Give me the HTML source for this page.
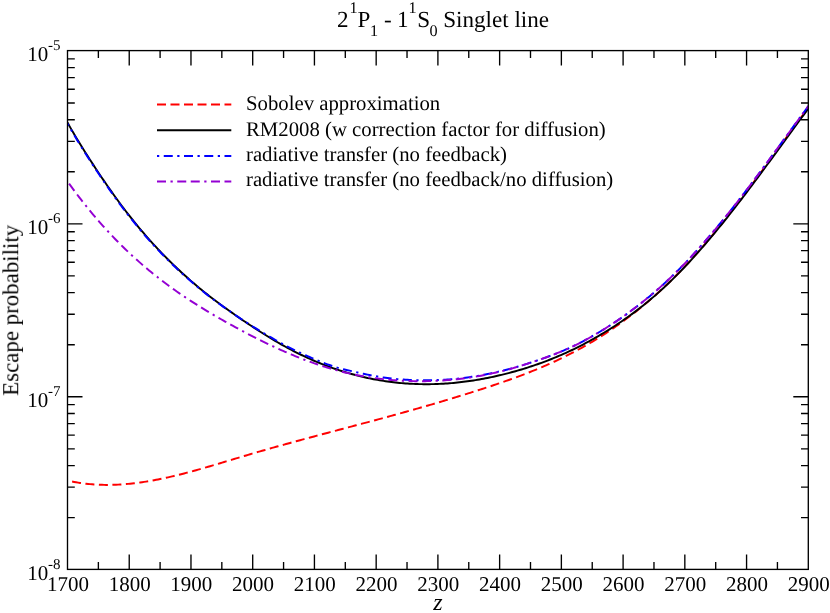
<!DOCTYPE html>
<html><head><meta charset="utf-8"><title>Escape probability</title>
<style>html,body{margin:0;padding:0;background:#fff;}body{width:830px;height:613px;position:relative;overflow:hidden;font-family:"Liberation Serif",serif;}</style>
</head><body>
<svg width="830" height="613" viewBox="0 0 830 613" style="position:absolute;left:0;top:0">
<rect x="0" y="0" width="830" height="613" fill="#fff"/>
<defs><clipPath id="c"><rect x="67.5" y="50.6" width="740.8" height="518.8"/></clipPath></defs>
<g clip-path="url(#c)" fill="none" stroke-linejoin="round">
<path d="M72.10,481.58 L74.10,481.96 L76.10,482.32 L78.10,482.65 L80.10,482.96 L82.10,483.25 L84.10,483.51 L86.10,483.74 L88.10,483.96 L90.10,484.15 L92.10,484.32 L94.10,484.47 L96.10,484.59 L98.10,484.70 L100.10,484.78 L102.10,484.84 L104.10,484.88 L106.10,484.91 L108.10,484.91 L110.10,484.89 L112.10,484.85 L114.10,484.80 L116.10,484.72 L118.10,484.63 L120.10,484.52 L122.10,484.39 L124.10,484.25 L126.10,484.08 L128.10,483.90 L130.10,483.71 L132.10,483.50 L134.10,483.27 L136.10,483.03 L138.10,482.77 L140.10,482.50 L142.10,482.21 L144.10,481.91 L146.10,481.60 L148.10,481.27 L150.10,480.93 L152.10,480.58 L154.10,480.21 L156.10,479.83 L158.10,479.44 L160.10,479.04 L162.10,478.63 L164.10,478.21 L166.10,477.77 L168.10,477.33 L170.10,476.87 L172.10,476.41 L174.10,475.94 L176.10,475.46 L178.10,474.97 L180.10,474.47 L182.10,473.96 L184.10,473.44 L186.10,472.92 L188.10,472.39 L190.10,471.86 L192.10,471.32 L194.10,470.77 L196.10,470.21 L198.10,469.66 L200.10,469.09 L202.10,468.52 L204.10,467.95 L206.10,467.37 L208.10,466.79 L210.10,466.20 L212.10,465.62 L214.10,465.02 L216.10,464.43 L218.10,463.83 L220.10,463.24 L222.10,462.64 L224.10,462.04 L226.10,461.44 L228.10,460.83 L230.10,460.23 L232.10,459.63 L234.10,459.03 L236.10,458.42 L238.10,457.82 L240.10,457.22 L242.10,456.63 L244.10,456.03 L246.10,455.44 L248.10,454.84 L250.10,454.26 L252.10,453.67 L254.10,453.09 L256.10,452.51 L258.10,451.93 L260.10,451.35 L262.10,450.78 L264.10,450.20 L266.10,449.63 L268.10,449.06 L270.10,448.50 L272.10,447.93 L274.10,447.37 L276.10,446.81 L278.10,446.25 L280.10,445.70 L282.10,445.14 L284.10,444.59 L286.10,444.04 L288.10,443.48 L290.10,442.94 L292.10,442.39 L294.10,441.84 L296.10,441.30 L298.10,440.75 L300.10,440.21 L302.10,439.67 L304.10,439.13 L306.10,438.59 L308.10,438.05 L310.10,437.51 L312.10,436.98 L314.10,436.44 L316.10,435.91 L318.10,435.37 L320.10,434.84 L322.10,434.31 L324.10,433.77 L326.10,433.24 L328.10,432.71 L330.10,432.18 L332.10,431.65 L334.10,431.12 L336.10,430.59 L338.10,430.06 L340.10,429.53 L342.10,429.00 L344.10,428.47 L346.10,427.93 L348.10,427.40 L350.10,426.87 L352.10,426.34 L354.10,425.81 L356.10,425.28 L358.10,424.75 L360.10,424.22 L362.10,423.68 L364.10,423.15 L366.10,422.62 L368.10,422.08 L370.10,421.55 L372.10,421.01 L374.10,420.48 L376.10,419.94 L378.10,419.40 L380.10,418.86 L382.10,418.32 L384.10,417.78 L386.10,417.24 L388.10,416.69 L390.10,416.15 L392.10,415.60 L394.10,415.05 L396.10,414.50 L398.10,413.95 L400.10,413.40 L402.10,412.85 L404.10,412.29 L406.10,411.73 L408.10,411.17 L410.10,410.61 L412.10,410.05 L414.10,409.49 L416.10,408.92 L418.10,408.35 L420.10,407.78 L422.10,407.21 L424.10,406.64 L426.10,406.06 L428.10,405.48 L430.10,404.90 L432.10,404.32 L434.10,403.73 L436.10,403.14 L438.10,402.56 L440.10,401.96 L442.10,401.37 L444.10,400.77 L446.10,400.18 L448.10,399.57 L450.10,398.97 L452.10,398.37 L454.10,397.76 L456.10,397.15 L458.10,396.53 L460.10,395.92 L462.10,395.30 L464.10,394.68 L466.10,394.06 L468.10,393.43 L470.10,392.81 L472.10,392.17 L474.10,391.54 L476.10,390.91 L478.10,390.27 L480.10,389.63 L482.10,388.98 L484.10,388.33 L486.10,387.68 L488.10,387.03 L490.10,386.37 L492.10,385.71 L494.10,385.04 L496.10,384.37 L498.10,383.69 L500.10,383.01 L502.10,382.32 L504.10,381.63 L506.10,380.93 L508.10,380.22 L510.10,379.51 L512.10,378.80 L514.10,378.07 L516.10,377.34 L518.10,376.60 L520.10,375.85 L522.10,375.10 L524.10,374.33 L526.10,373.56 L528.10,372.78 L530.10,371.99 L532.10,371.19 L534.10,370.39 L536.10,369.57 L538.10,368.74 L540.10,367.90 L542.10,367.06 L544.10,366.20 L546.10,365.33 L548.10,364.45 L550.10,363.56 L552.10,362.66 L554.10,361.74 L556.10,360.82 L558.10,359.88 L560.10,358.93 L562.10,357.96 L564.10,356.98 L566.10,355.99 L568.10,354.99 L570.10,353.97 L572.10,352.94 L574.10,351.89 L576.10,350.83 L578.10,349.76 L580.10,348.67 L582.10,347.56 L584.10,346.44 L586.10,345.30 L588.10,344.15 L590.10,342.99 L592.10,341.80 L594.10,340.60 L596.10,339.39 L598.10,338.15 L600.10,336.91 L602.10,335.64 L604.10,334.36 L606.10,333.06 L608.10,331.74 L610.10,330.41 L612.10,329.06 L614.10,327.69 L616.10,326.30 L618.10,324.89 L620.10,323.47 L622.10,322.03 L624.10,320.57 L626.10,319.09 L628.10,317.59 L630.10,316.07 L632.10,314.54 L634.10,312.98 L636.10,311.41 L638.10,309.81 L640.10,308.20 L642.10,306.56 L644.10,304.90 L646.10,303.23 L648.10,301.53 L650.10,299.82 L652.10,298.08 L654.10,296.32 L656.10,294.54 L658.10,292.74 L660.10,290.92 L662.10,289.07 L664.10,287.20 L666.10,285.32 L668.10,283.41 L670.10,281.47 L672.10,279.52 L674.10,277.54 L676.10,275.54 L678.10,273.51 L680.10,271.47 L682.10,269.40 L684.10,267.30 L686.10,265.18 L688.10,263.04 L690.10,260.88 L692.10,258.69 L694.10,256.47 L696.10,254.24 L698.10,251.98 L700.10,249.70 L702.10,247.39 L704.10,245.07 L706.10,242.73 L708.10,240.36 L710.10,237.98 L712.10,235.57 L714.10,233.15 L716.10,230.71 L718.10,228.26 L720.10,225.78 L722.10,223.29 L724.10,220.78 L726.10,218.26 L728.10,215.72 L730.10,213.17 L732.10,210.61 L734.10,208.03 L736.10,205.44 L738.10,202.83 L740.10,200.21 L742.10,197.59 L744.10,194.95 L746.10,192.30 L748.10,189.64 L750.10,186.97 L752.10,184.29 L754.10,181.61 L756.10,178.91 L758.10,176.21 L760.10,173.50 L762.10,170.79 L764.10,168.07 L766.10,165.34 L768.10,162.61 L770.10,159.88 L772.10,157.14 L774.10,154.40 L776.10,151.66 L778.10,148.91 L780.10,146.16 L782.10,143.41 L784.10,140.66 L786.10,137.91 L788.10,135.16 L790.10,132.41 L792.10,129.66 L794.10,126.91 L796.10,124.17 L798.10,121.43 L800.10,118.69 L802.10,115.95 L804.10,113.22 L806.10,110.50 L808.10,107.78 L808.30,107.51" stroke="#ff0000" stroke-width="1.95" stroke-dasharray="9.0,4.5"/>
<path d="M67.50,122.54 L69.50,126.11 L71.50,129.62 L73.50,133.06 L75.50,136.45 L77.50,139.78 L79.50,143.07 L81.50,146.31 L83.50,149.52 L85.50,152.69 L87.50,155.83 L89.50,158.94 L91.50,162.04 L93.50,165.11 L95.50,168.16 L97.50,171.19 L99.50,174.19 L101.50,177.17 L103.50,180.13 L105.50,183.05 L107.50,185.96 L109.50,188.83 L111.50,191.68 L113.50,194.49 L115.50,197.28 L117.50,200.04 L119.50,202.77 L121.50,205.46 L123.50,208.13 L125.50,210.76 L127.50,213.36 L129.50,215.92 L131.50,218.45 L133.50,220.95 L135.50,223.42 L137.50,225.86 L139.50,228.27 L141.50,230.64 L143.50,232.99 L145.50,235.31 L147.50,237.59 L149.50,239.85 L151.50,242.08 L153.50,244.29 L155.50,246.46 L157.50,248.61 L159.50,250.73 L161.50,252.82 L163.50,254.89 L165.50,256.94 L167.50,258.95 L169.50,260.95 L171.50,262.92 L173.50,264.86 L175.50,266.79 L177.50,268.69 L179.50,270.56 L181.50,272.42 L183.50,274.25 L185.50,276.06 L187.50,277.85 L189.50,279.62 L191.50,281.37 L193.50,283.10 L195.50,284.80 L197.50,286.49 L199.50,288.15 L201.50,289.80 L203.50,291.43 L205.50,293.03 L207.50,294.62 L209.50,296.19 L211.50,297.74 L213.50,299.27 L215.50,300.78 L217.50,302.28 L219.50,303.76 L221.50,305.23 L223.50,306.68 L225.50,308.12 L227.50,309.55 L229.50,310.97 L231.50,312.39 L233.50,313.79 L235.50,315.19 L237.50,316.58 L239.50,317.96 L241.50,319.33 L243.50,320.69 L245.50,322.05 L247.50,323.40 L249.50,324.73 L251.50,326.06 L253.50,327.38 L255.50,328.68 L257.50,329.98 L259.50,331.26 L261.50,332.53 L263.50,333.79 L265.50,335.04 L267.50,336.28 L269.50,337.50 L271.50,338.71 L273.50,339.90 L275.50,341.08 L277.50,342.25 L279.50,343.40 L281.50,344.53 L283.50,345.66 L285.50,346.76 L287.50,347.85 L289.50,348.92 L291.50,349.98 L293.50,351.02 L295.50,352.04 L297.50,353.04 L299.50,354.03 L301.50,355.00 L303.50,355.96 L305.50,356.90 L307.50,357.82 L309.50,358.73 L311.50,359.61 L313.50,360.49 L315.50,361.34 L317.50,362.18 L319.50,363.00 L321.50,363.81 L323.50,364.60 L325.50,365.37 L327.50,366.13 L329.50,366.87 L331.50,367.60 L333.50,368.31 L335.50,369.00 L337.50,369.68 L339.50,370.34 L341.50,370.99 L343.50,371.61 L345.50,372.23 L347.50,372.83 L349.50,373.41 L351.50,373.97 L353.50,374.52 L355.50,375.06 L357.50,375.58 L359.50,376.08 L361.50,376.57 L363.50,377.04 L365.50,377.50 L367.50,377.94 L369.50,378.36 L371.50,378.77 L373.50,379.17 L375.50,379.55 L377.50,379.91 L379.50,380.26 L381.50,380.59 L383.50,380.91 L385.50,381.22 L387.50,381.51 L389.50,381.78 L391.50,382.04 L393.50,382.28 L395.50,382.51 L397.50,382.72 L399.50,382.92 L401.50,383.11 L403.50,383.28 L405.50,383.43 L407.50,383.57 L409.50,383.70 L411.50,383.81 L413.50,383.90 L415.50,383.99 L417.50,384.06 L419.50,384.11 L421.50,384.15 L423.50,384.18 L425.50,384.19 L427.50,384.19 L429.50,384.17 L431.50,384.14 L433.50,384.10 L435.50,384.04 L437.50,383.97 L439.50,383.89 L441.50,383.79 L443.50,383.68 L445.50,383.55 L447.50,383.41 L449.50,383.26 L451.50,383.10 L453.50,382.92 L455.50,382.73 L457.50,382.52 L459.50,382.31 L461.50,382.08 L463.50,381.83 L465.50,381.58 L467.50,381.31 L469.50,381.03 L471.50,380.73 L473.50,380.43 L475.50,380.11 L477.50,379.78 L479.50,379.43 L481.50,379.08 L483.50,378.71 L485.50,378.33 L487.50,377.93 L489.50,377.53 L491.50,377.11 L493.50,376.68 L495.50,376.24 L497.50,375.79 L499.50,375.32 L501.50,374.85 L503.50,374.36 L505.50,373.86 L507.50,373.35 L509.50,372.82 L511.50,372.29 L513.50,371.74 L515.50,371.19 L517.50,370.62 L519.50,370.03 L521.50,369.44 L523.50,368.84 L525.50,368.22 L527.50,367.59 L529.50,366.94 L531.50,366.29 L533.50,365.62 L535.50,364.93 L537.50,364.24 L539.50,363.53 L541.50,362.81 L543.50,362.07 L545.50,361.32 L547.50,360.56 L549.50,359.78 L551.50,358.99 L553.50,358.18 L555.50,357.36 L557.50,356.52 L559.50,355.67 L561.50,354.81 L563.50,353.93 L565.50,353.03 L567.50,352.12 L569.50,351.19 L571.50,350.25 L573.50,349.29 L575.50,348.32 L577.50,347.33 L579.50,346.32 L581.50,345.30 L583.50,344.27 L585.50,343.21 L587.50,342.14 L589.50,341.06 L591.50,339.96 L593.50,338.84 L595.50,337.70 L597.50,336.55 L599.50,335.39 L601.50,334.20 L603.50,333.00 L605.50,331.79 L607.50,330.55 L609.50,329.30 L611.50,328.04 L613.50,326.75 L615.50,325.45 L617.50,324.13 L619.50,322.79 L621.50,321.44 L623.50,320.06 L625.50,318.67 L627.50,317.25 L629.50,315.82 L631.50,314.36 L633.50,312.88 L635.50,311.39 L637.50,309.87 L639.50,308.33 L641.50,306.76 L643.50,305.17 L645.50,303.56 L647.50,301.93 L649.50,300.27 L651.50,298.59 L653.50,296.88 L655.50,295.15 L657.50,293.39 L659.50,291.61 L661.50,289.80 L663.50,287.96 L665.50,286.10 L667.50,284.21 L669.50,282.29 L671.50,280.35 L673.50,278.39 L675.50,276.40 L677.50,274.38 L679.50,272.34 L681.50,270.28 L683.50,268.20 L685.50,266.09 L687.50,263.96 L689.50,261.80 L691.50,259.63 L693.50,257.43 L695.50,255.21 L697.50,252.97 L699.50,250.70 L701.50,248.42 L703.50,246.12 L705.50,243.80 L707.50,241.45 L709.50,239.09 L711.50,236.71 L713.50,234.31 L715.50,231.89 L717.50,229.46 L719.50,227.00 L721.50,224.53 L723.50,222.05 L725.50,219.55 L727.50,217.03 L729.50,214.50 L731.50,211.96 L733.50,209.40 L735.50,206.83 L737.50,204.24 L739.50,201.65 L741.50,199.04 L743.50,196.42 L745.50,193.79 L747.50,191.15 L749.50,188.50 L751.50,185.84 L753.50,183.17 L755.50,180.50 L757.50,177.81 L759.50,175.12 L761.50,172.42 L763.50,169.72 L765.50,167.01 L767.50,164.29 L769.50,161.57 L771.50,158.85 L773.50,156.12 L775.50,153.39 L777.50,150.65 L779.50,147.92 L781.50,145.18 L783.50,142.44 L785.50,139.69 L787.50,136.95 L789.50,134.21 L791.50,131.47 L793.50,128.73 L795.50,125.99 L797.50,123.25 L799.50,120.52 L801.50,117.79 L803.50,115.06 L805.50,112.34 L807.50,109.62 L808.30,108.53" stroke="#000" stroke-width="1.95"/>
<path d="M67.50,123.44 L69.50,127.01 L71.50,130.52 L73.50,133.96 L75.50,137.34 L77.50,140.68 L79.50,143.96 L81.50,147.20 L83.50,150.40 L85.50,153.57 L87.50,156.71 L89.50,159.82 L91.50,162.91 L93.50,165.98 L95.50,169.03 L97.50,172.05 L99.50,175.05 L101.50,178.03 L103.50,180.97 L105.50,183.90 L107.50,186.79 L109.50,189.66 L111.50,192.50 L113.50,195.32 L115.50,198.10 L117.50,200.85 L119.50,203.57 L121.50,206.26 L123.50,208.92 L125.50,211.54 L127.50,214.13 L129.50,216.69 L131.50,219.22 L133.50,221.71 L135.50,224.17 L137.50,226.60 L139.50,229.00 L141.50,231.37 L143.50,233.71 L145.50,236.02 L147.50,238.30 L149.50,240.55 L151.50,242.78 L153.50,244.97 L155.50,247.14 L157.50,249.28 L159.50,251.39 L161.50,253.48 L163.50,255.53 L165.50,257.57 L167.50,259.58 L169.50,261.56 L171.50,263.52 L173.50,265.45 L175.50,267.36 L177.50,269.25 L179.50,271.11 L181.50,272.95 L183.50,274.77 L185.50,276.57 L187.50,278.35 L189.50,280.10 L191.50,281.83 L193.50,283.55 L195.50,285.24 L197.50,286.91 L199.50,288.56 L201.50,290.19 L203.50,291.80 L205.50,293.39 L207.50,294.96 L209.50,296.51 L211.50,298.04 L213.50,299.55 L215.50,301.04 L217.50,302.51 L219.50,303.97 L221.50,305.41 L223.50,306.84 L225.50,308.26 L227.50,309.66 L229.50,311.05 L231.50,312.44 L233.50,313.81 L235.50,315.18 L237.50,316.54 L239.50,317.88 L241.50,319.22 L243.50,320.54 L245.50,321.86 L247.50,323.16 L249.50,324.45 L251.50,325.72 L253.50,326.97 L255.50,328.20 L257.50,329.41 L259.50,330.61 L261.50,331.80 L263.50,332.98 L265.50,334.16 L267.50,335.33 L269.50,336.51 L271.50,337.68 L273.50,338.85 L275.50,340.01 L277.50,341.16 L279.50,342.29 L281.50,343.41 L283.50,344.51 L285.50,345.60 L287.50,346.66 L289.50,347.69 L291.50,348.70 L293.50,349.68 L295.50,350.63 L297.50,351.57 L299.50,352.49 L301.50,353.40 L303.50,354.30 L305.50,355.20 L307.50,356.10 L309.50,356.99 L311.50,357.86 L313.50,358.73 L315.50,359.57 L317.50,360.40 L319.50,361.22 L321.50,362.02 L323.50,362.80 L325.50,363.56 L327.50,364.31 L329.50,365.03 L331.50,365.74 L333.50,366.42 L335.50,367.08 L337.50,367.68 L339.50,368.21 L341.50,368.71 L343.50,369.21 L345.50,369.70 L347.50,370.18 L349.50,370.64 L351.50,371.09 L353.50,371.54 L355.50,372.00 L357.50,372.44 L359.50,372.88 L361.50,373.31 L363.50,373.74 L365.50,374.18 L367.50,374.60 L369.50,375.01 L371.50,375.40 L373.50,375.79 L375.50,376.16 L377.50,376.51 L379.50,376.85 L381.50,377.18 L383.50,377.49 L385.50,377.78 L387.50,378.06 L389.50,378.32 L391.50,378.56 L393.50,378.78 L395.50,378.98 L397.50,379.15 L399.50,379.30 L401.50,379.44 L403.50,379.58 L405.50,379.70 L407.50,379.82 L409.50,379.91 L411.50,380.00 L413.50,380.07 L415.50,380.13 L417.50,380.18 L419.50,380.22 L421.50,380.26 L423.50,380.28 L425.50,380.29 L427.50,380.29 L429.50,380.27 L431.50,380.24 L433.50,380.20 L435.50,380.14 L437.50,380.07 L439.50,379.99 L441.50,379.89 L443.50,379.78 L445.50,379.65 L447.50,379.51 L449.50,379.36 L451.50,379.20 L453.50,379.02 L455.50,378.83 L457.50,378.62 L459.50,378.41 L461.50,378.18 L463.50,377.93 L465.50,377.68 L467.50,377.41 L469.50,377.13 L471.50,376.83 L473.50,376.53 L475.50,376.21 L477.50,375.88 L479.50,375.53 L481.50,375.18 L483.50,374.81 L485.50,374.43 L487.50,374.03 L489.50,373.63 L491.50,373.21 L493.50,372.78 L495.50,372.34 L497.50,371.89 L499.50,371.42 L501.50,370.95 L503.50,370.46 L505.50,369.96 L507.50,369.45 L509.50,368.92 L511.50,368.39 L513.50,367.84 L515.50,367.29 L517.50,366.72 L519.50,366.13 L521.50,365.54 L523.50,364.94 L525.50,364.32 L527.50,363.69 L529.50,363.04 L531.50,362.39 L533.50,361.73 L535.50,361.06 L537.50,360.38 L539.50,359.70 L541.50,359.00 L543.50,358.30 L545.50,357.58 L547.50,356.85 L549.50,356.11 L551.50,355.36 L553.50,354.60 L555.50,353.82 L557.50,353.02 L559.50,352.22 L561.50,351.39 L563.50,350.55 L565.50,349.69 L567.50,348.81 L569.50,347.91 L571.50,347.00 L573.50,346.06 L575.50,345.10 L577.50,344.12 L579.50,343.12 L581.50,342.10 L583.50,341.05 L585.50,339.98 L587.50,338.89 L589.50,337.78 L591.50,336.66 L593.50,335.51 L595.50,334.35 L597.50,333.17 L599.50,331.98 L601.50,330.78 L603.50,329.55 L605.50,328.31 L607.50,327.05 L609.50,325.77 L611.50,324.47 L613.50,323.16 L615.50,321.83 L617.50,320.48 L619.50,319.12 L621.50,317.73 L623.50,316.33 L625.50,314.91 L627.50,313.47 L629.50,312.01 L631.50,310.53 L633.50,309.04 L635.50,307.53 L637.50,305.99 L639.50,304.44 L641.50,302.87 L643.50,301.28 L645.50,299.66 L647.50,298.03 L649.50,296.38 L651.50,294.71 L653.50,293.02 L655.50,291.30 L657.50,289.57 L659.50,287.81 L661.50,286.02 L663.50,284.22 L665.50,282.38 L667.50,280.53 L669.50,278.65 L671.50,276.74 L673.50,274.81 L675.50,272.86 L677.50,270.88 L679.50,268.88 L681.50,266.86 L683.50,264.81 L685.50,262.74 L687.50,260.64 L689.50,258.52 L691.50,256.37 L693.50,254.21 L695.50,252.02 L697.50,249.80 L699.50,247.57 L701.50,245.32 L703.50,243.05 L705.50,240.76 L707.50,238.45 L709.50,236.13 L711.50,233.78 L713.50,231.42 L715.50,229.04 L717.50,226.64 L719.50,224.22 L721.50,221.79 L723.50,219.34 L725.50,216.88 L727.50,214.40 L729.50,211.90 L731.50,209.39 L733.50,206.86 L735.50,204.32 L737.50,201.77 L739.50,199.20 L741.50,196.61 L743.50,194.02 L745.50,191.41 L747.50,188.79 L749.50,186.16 L751.50,183.51 L753.50,180.86 L755.50,178.19 L757.50,175.51 L759.50,172.82 L761.50,170.12 L763.50,167.42 L765.50,164.71 L767.50,161.99 L769.50,159.27 L771.50,156.55 L773.50,153.82 L775.50,151.09 L777.50,148.35 L779.50,145.62 L781.50,142.88 L783.50,140.14 L785.50,137.39 L787.50,134.65 L789.50,131.91 L791.50,129.17 L793.50,126.43 L795.50,123.69 L797.50,120.95 L799.50,118.22 L801.50,115.48 L803.50,112.73 L805.50,109.98 L807.50,107.23 L808.30,106.13" stroke="#0000ff" stroke-width="1.95" stroke-dasharray="2.25,4.5,9.0,4.5" stroke-dashoffset="13.25"/>
<path d="M69.10,183.63 L71.10,186.39 L73.10,189.12 L75.10,191.81 L77.10,194.47 L79.10,197.10 L81.10,199.69 L83.10,202.24 L85.10,204.77 L87.10,207.26 L89.10,209.72 L91.10,212.15 L93.10,214.55 L95.10,216.91 L97.10,219.25 L99.10,221.55 L101.10,223.83 L103.10,226.08 L105.10,228.29 L107.10,230.48 L109.10,232.64 L111.10,234.77 L113.10,236.87 L115.10,238.95 L117.10,241.00 L119.10,243.02 L121.10,245.02 L123.10,246.99 L125.10,248.93 L127.10,250.85 L129.10,252.75 L131.10,254.62 L133.10,256.46 L135.10,258.28 L137.10,260.08 L139.10,261.86 L141.10,263.61 L143.10,265.34 L145.10,267.05 L147.10,268.74 L149.10,270.40 L151.10,272.05 L153.10,273.67 L155.10,275.27 L157.10,276.86 L159.10,278.42 L161.10,279.97 L163.10,281.50 L165.10,283.01 L167.10,284.50 L169.10,285.97 L171.10,287.43 L173.10,288.86 L175.10,290.29 L177.10,291.69 L179.10,293.08 L181.10,294.46 L183.10,295.82 L185.10,297.16 L187.10,298.49 L189.10,299.81 L191.10,301.11 L193.10,302.40 L195.10,303.68 L197.10,304.94 L199.10,306.20 L201.10,307.44 L203.10,308.67 L205.10,309.88 L207.10,311.09 L209.10,312.29 L211.10,313.47 L213.10,314.65 L215.10,315.82 L217.10,316.98 L219.10,318.13 L221.10,319.27 L223.10,320.40 L225.10,321.53 L227.10,322.65 L229.10,323.76 L231.10,324.87 L233.10,325.97 L235.10,327.06 L237.10,328.15 L239.10,329.23 L241.10,330.30 L243.10,331.37 L245.10,332.42 L247.10,333.47 L249.10,334.52 L251.10,335.55 L253.10,336.58 L255.10,337.60 L257.10,338.61 L259.10,339.61 L261.10,340.61 L263.10,341.59 L265.10,342.57 L267.10,343.54 L269.10,344.49 L271.10,345.44 L273.10,346.38 L275.10,347.31 L277.10,348.23 L279.10,349.14 L281.10,350.04 L283.10,350.93 L285.10,351.81 L287.10,352.67 L289.10,353.53 L291.10,354.38 L293.10,355.21 L295.10,356.03 L297.10,356.84 L299.10,357.64 L301.10,358.43 L303.10,359.21 L305.10,359.97 L307.10,360.72 L309.10,361.46 L311.10,362.19 L313.10,362.90 L315.10,363.60 L317.10,364.29 L319.10,364.96 L321.10,365.62 L323.10,366.27 L325.10,366.90 L327.10,367.52 L329.10,368.13 L331.10,368.72 L333.10,369.30 L335.10,369.86 L337.10,370.41 L339.10,370.94 L341.10,371.46 L343.10,371.96 L345.10,372.45 L347.10,372.92 L349.10,373.38 L351.10,373.83 L353.10,374.26 L355.10,374.68 L357.10,375.09 L359.10,375.48 L361.10,375.86 L363.10,376.22 L365.10,376.57 L367.10,376.91 L369.10,377.23 L371.10,377.54 L373.10,377.84 L375.10,378.12 L377.10,378.39 L379.10,378.65 L381.10,378.90 L383.10,379.13 L385.10,379.35 L387.10,379.56 L389.10,379.75 L391.10,379.94 L393.10,380.11 L395.10,380.27 L397.10,380.41 L399.10,380.55 L401.10,380.67 L403.10,380.78 L405.10,380.87 L407.10,380.96 L409.10,381.03 L411.10,381.09 L413.10,381.14 L415.10,381.18 L417.10,381.20 L419.10,381.22 L421.10,381.22 L423.10,381.21 L425.10,381.18 L427.10,381.15 L429.10,381.10 L431.10,381.04 L433.10,380.97 L435.10,380.89 L437.10,380.79 L439.10,380.69 L441.10,380.57 L443.10,380.44 L445.10,380.29 L447.10,380.14 L449.10,379.97 L451.10,379.80 L453.10,379.61 L455.10,379.41 L457.10,379.19 L459.10,378.97 L461.10,378.73 L463.10,378.48 L465.10,378.22 L467.10,377.95 L469.10,377.67 L471.10,377.37 L473.10,377.06 L475.10,376.74 L477.10,376.40 L479.10,376.04 L481.10,375.67 L483.10,375.28 L485.10,374.88 L487.10,374.47 L489.10,374.04 L491.10,373.60 L493.10,373.15 L495.10,372.68 L497.10,372.21 L499.10,371.72 L501.10,371.30 L503.10,370.90 L505.10,370.44 L507.10,369.93 L509.10,369.37 L511.10,368.78 L513.10,368.16 L515.10,367.52 L517.10,366.88 L519.10,366.26 L521.10,365.66 L523.10,365.06 L525.10,364.44 L527.10,363.81 L529.10,363.17 L531.10,362.52 L533.10,361.86 L535.10,361.19 L537.10,360.52 L539.10,359.83 L541.10,359.14 L543.10,358.44 L545.10,357.72 L547.10,357.00 L549.10,356.26 L551.10,355.51 L553.10,354.75 L555.10,353.98 L557.10,353.18 L559.10,352.38 L561.10,351.56 L563.10,350.72 L565.10,349.86 L567.10,348.99 L569.10,348.09 L571.10,347.18 L573.10,346.25 L575.10,345.30 L577.10,344.32 L579.10,343.33 L581.10,342.31 L583.10,341.27 L585.10,340.20 L587.10,339.11 L589.10,338.01 L591.10,336.88 L593.10,335.74 L595.10,334.58 L597.10,333.41 L599.10,332.22 L601.10,331.02 L603.10,329.80 L605.10,328.56 L607.10,327.30 L609.10,326.03 L611.10,324.73 L613.10,323.43 L615.10,322.10 L617.10,320.75 L619.10,319.39 L621.10,318.01 L623.10,316.61 L625.10,315.19 L627.10,313.76 L629.10,312.30 L631.10,310.83 L633.10,309.34 L635.10,307.83 L637.10,306.30 L639.10,304.75 L641.10,303.18 L643.10,301.60 L645.10,299.99 L647.10,298.36 L649.10,296.71 L651.10,295.05 L653.10,293.36 L655.10,291.65 L657.10,289.92 L659.10,288.16 L661.10,286.38 L663.10,284.58 L665.10,282.75 L667.10,280.90 L669.10,279.02 L671.10,277.12 L673.10,275.20 L675.10,273.25 L677.10,271.28 L679.10,269.28 L681.10,267.26 L683.10,265.22 L685.10,263.15 L687.10,261.06 L689.10,258.94 L691.10,256.80 L693.10,254.64 L695.10,252.46 L697.10,250.25 L699.10,248.02 L701.10,245.77 L703.10,243.51 L705.10,241.22 L707.10,238.92 L709.10,236.59 L711.10,234.25 L713.10,231.89 L715.10,229.52 L717.10,227.12 L719.10,224.71 L721.10,222.28 L723.10,219.83 L725.10,217.37 L727.10,214.89 L729.10,212.40 L731.10,209.89 L733.10,207.37 L735.10,204.83 L737.10,202.28 L739.10,199.71 L741.10,197.13 L743.10,194.54 L745.10,191.93 L747.10,189.31 L749.10,186.68 L751.10,184.04 L753.10,181.39 L755.10,178.72 L757.10,176.05 L759.10,173.36 L761.10,170.66 L763.10,167.96 L765.10,165.25 L767.10,162.54 L769.10,159.82 L771.10,157.09 L773.10,154.36 L775.10,151.63 L777.10,148.90 L779.10,146.16 L781.10,143.42 L783.10,140.68 L785.10,137.94 L787.10,135.20 L789.10,132.46 L791.10,129.72 L793.10,126.98 L795.10,124.24 L797.10,121.50 L799.10,118.77 L801.10,116.03 L803.10,113.28 L805.10,110.53 L807.10,107.78 L808.30,106.13" stroke="#9400d3" stroke-width="1.95" stroke-dasharray="9.0,4.5,2.25,4.5,9.0,4.5" stroke-dashoffset="20.25"/>
</g>
<path d="M98.37,569.4v-7.3M98.37,50.6v7.3M129.23,569.4v-15.0M129.23,50.6v15.0M160.10,569.4v-7.3M160.10,50.6v7.3M190.97,569.4v-15.0M190.97,50.6v15.0M221.83,569.4v-7.3M221.83,50.6v7.3M252.70,569.4v-15.0M252.70,50.6v15.0M283.57,569.4v-7.3M283.57,50.6v7.3M314.43,569.4v-15.0M314.43,50.6v15.0M345.30,569.4v-7.3M345.30,50.6v7.3M376.17,569.4v-15.0M376.17,50.6v15.0M407.03,569.4v-7.3M407.03,50.6v7.3M437.90,569.4v-15.0M437.90,50.6v15.0M468.77,569.4v-7.3M468.77,50.6v7.3M499.63,569.4v-15.0M499.63,50.6v15.0M530.50,569.4v-7.3M530.50,50.6v7.3M561.37,569.4v-15.0M561.37,50.6v15.0M592.23,569.4v-7.3M592.23,50.6v7.3M623.10,569.4v-15.0M623.10,50.6v15.0M653.97,569.4v-7.3M653.97,50.6v7.3M684.83,569.4v-15.0M684.83,50.6v15.0M715.70,569.4v-7.3M715.70,50.6v7.3M746.57,569.4v-15.0M746.57,50.6v15.0M777.43,569.4v-7.3M777.43,50.6v7.3M67.5,517.64h7.3M808.3,517.64h-7.3M67.5,487.19h7.3M808.3,487.19h-7.3M67.5,465.58h7.3M808.3,465.58h-7.3M67.5,448.82h7.3M808.3,448.82h-7.3M67.5,435.13h7.3M808.3,435.13h-7.3M67.5,423.55h7.3M808.3,423.55h-7.3M67.5,413.53h7.3M808.3,413.53h-7.3M67.5,404.68h7.3M808.3,404.68h-7.3M67.5,396.77h15.0M808.3,396.77h-15.0M67.5,344.71h7.3M808.3,344.71h-7.3M67.5,314.26h7.3M808.3,314.26h-7.3M67.5,292.65h7.3M808.3,292.65h-7.3M67.5,275.89h7.3M808.3,275.89h-7.3M67.5,262.20h7.3M808.3,262.20h-7.3M67.5,250.62h7.3M808.3,250.62h-7.3M67.5,240.59h7.3M808.3,240.59h-7.3M67.5,231.75h7.3M808.3,231.75h-7.3M67.5,223.83h15.0M808.3,223.83h-15.0M67.5,171.78h7.3M808.3,171.78h-7.3M67.5,141.32h7.3M808.3,141.32h-7.3M67.5,119.72h7.3M808.3,119.72h-7.3M67.5,102.96h7.3M808.3,102.96h-7.3M67.5,89.27h7.3M808.3,89.27h-7.3M67.5,77.69h7.3M808.3,77.69h-7.3M67.5,67.66h7.3M808.3,67.66h-7.3M67.5,58.81h7.3M808.3,58.81h-7.3" stroke="#000" stroke-width="1.35" fill="none"/>
<rect x="67.5" y="50.6" width="740.8" height="518.8" fill="none" stroke="#000" stroke-width="1.35"/>
<path d="M157.0,104.5H231.3" stroke="#ff0000" stroke-width="1.95" fill="none" stroke-dasharray="9.0,4.5"/>
<path d="M157.0,130.15H231.3" stroke="#000" stroke-width="1.95" fill="none"/>
<path d="M157.0,156.0H231.3" stroke="#0000ff" stroke-width="1.95" fill="none" stroke-dasharray="2.25,4.5,9.0,4.5"/>
<path d="M157.0,181.45H231.3" stroke="#9400d3" stroke-width="1.95" fill="none" stroke-dasharray="9.0,4.5,2.25,4.5,9.0,4.5"/>
<g font-family="Liberation Serif, serif" fill="#000" opacity="0.999" style="text-rendering:geometricPrecision">
<text x="67.90" y="591.4" font-size="21.0" text-anchor="middle">1700</text>
<text x="129.63" y="591.4" font-size="21.0" text-anchor="middle">1800</text>
<text x="191.37" y="591.4" font-size="21.0" text-anchor="middle">1900</text>
<text x="253.10" y="591.4" font-size="21.0" text-anchor="middle">2000</text>
<text x="314.83" y="591.4" font-size="21.0" text-anchor="middle">2100</text>
<text x="376.57" y="591.4" font-size="21.0" text-anchor="middle">2200</text>
<text x="438.30" y="591.4" font-size="21.0" text-anchor="middle">2300</text>
<text x="500.03" y="591.4" font-size="21.0" text-anchor="middle">2400</text>
<text x="561.77" y="591.4" font-size="21.0" text-anchor="middle">2500</text>
<text x="623.50" y="591.4" font-size="21.0" text-anchor="middle">2600</text>
<text x="685.23" y="591.4" font-size="21.0" text-anchor="middle">2700</text>
<text x="746.97" y="591.4" font-size="21.0" text-anchor="middle">2800</text>
<text x="808.70" y="591.4" font-size="21.0" text-anchor="middle">2900</text>
<text x="48.2" y="580.00" font-size="21.0" text-anchor="end">10</text>
<text x="48.1" y="568.50" font-size="15.0" text-anchor="start">-8</text>
<text x="48.2" y="407.07" font-size="21.0" text-anchor="end">10</text>
<text x="48.1" y="395.57" font-size="15.0" text-anchor="start">-7</text>
<text x="48.2" y="234.13" font-size="21.0" text-anchor="end">10</text>
<text x="48.1" y="222.63" font-size="15.0" text-anchor="start">-6</text>
<text x="48.2" y="61.20" font-size="21.0" text-anchor="end">10</text>
<text x="48.1" y="49.70" font-size="15.0" text-anchor="start">-5</text>
<text x="246.0" y="110.3" font-size="20.75">Sobolev approximation</text>
<text x="246.0" y="135.6" font-size="20.75">RM2008 (w correction factor for diffusion)</text>
<text x="246.0" y="160.9" font-size="20.75">radiative transfer (no feedback)</text>
<text x="246.0" y="186.3" font-size="20.75">radiative transfer (no feedback/no diffusion)</text>
<text x="337.0" y="26.7" font-size="23.1">2</text>
<text x="349.5" y="12.7" font-size="16.2">1</text>
<text x="357.6" y="26.7" font-size="23.1">P</text>
<text x="370.0" y="35.6" font-size="16.2">1</text>
<text x="384.0" y="26.7" font-size="23.1">-</text>
<text x="397.0" y="26.7" font-size="23.1">1</text>
<text x="408.6" y="12.7" font-size="16.2">1</text>
<text x="417.2" y="26.7" font-size="23.1">S</text>
<text x="429.4" y="35.8" font-size="16.2">0</text>
<text x="443.2" y="26.7" font-size="23.1">Singlet line</text>
<text x="438.0" y="610.0" font-size="24" font-style="italic" text-anchor="middle">z</text>
<text transform="translate(18.2,395.8) rotate(-90)" font-size="22.9">Escape probability</text>
</g>
</svg>
</body></html>
